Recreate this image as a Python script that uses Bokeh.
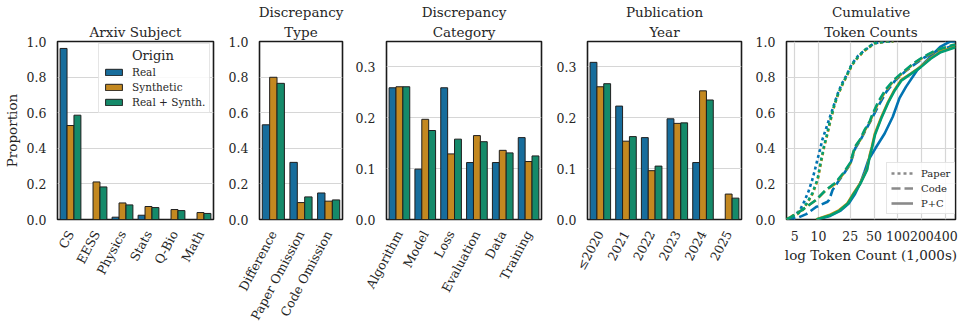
from bokeh.plotting import figure
from bokeh.layouts import row
from bokeh.models import (Range1d, FixedTicker, ColumnDataSource, Legend, LegendItem,
                          PrintfTickFormatter, Title)
from bokeh.transform import dodge
from bokeh.embed import file_html
from bokeh.resources import INLINE

# ---------------- data ----------------
origins = ["Real", "Synthetic", "Real + Synth."]

subj_cats = ["CS", "EESS", "Physics", "Stats", "Q-Bio", "Math"]
subj_real = [0.961, 0.0, 0.013, 0.024, 0.0, 0.0]
subj_synth = [0.528, 0.211, 0.093, 0.073, 0.056, 0.039]
subj_rs = [0.586, 0.183, 0.082, 0.067, 0.050, 0.034]

type_cats = ["Difference", "Paper Omission", "Code Omission"]
type_real = [0.532, 0.321, 0.149]
type_synth = [0.799, 0.095, 0.103]
type_rs = [0.765, 0.127, 0.110]

cat_cats = ["Algorithm", "Model", "Loss", "Evaluation", "Data", "Training"]
cat_real = [0.259, 0.099, 0.259, 0.112, 0.112, 0.161]
cat_synth = [0.261, 0.197, 0.129, 0.165, 0.136, 0.114]
cat_rs = [0.261, 0.175, 0.158, 0.153, 0.131, 0.125]

year_cats = ["\u22642020", "2021", "2022", "2023", "2024", "2025"]
year_real = [0.309, 0.223, 0.161, 0.198, 0.112, 0.0]
year_synth = [0.261, 0.154, 0.096, 0.189, 0.253, 0.050]
year_rs = [0.267, 0.163, 0.105, 0.190, 0.235, 0.042]

token_ticks = [5, 10, 25, 50, 100, 200, 400]

# cumulative token counts (x in 1,000s tokens, y = cumulative proportion)
paper_real_x = [3.95, 4.8, 5.8, 6.6, 7.5, 8.3, 8.9, 9.6, 10.4, 11.2, 12.2, 13.3, 14.5, 15.8, 17.2, 19.5, 22.5, 26.0, 31.5, 38.0, 50.0, 70.0, 88.0]
paper_real_y = [0.0, 0.02, 0.05, 0.10, 0.16, 0.22, 0.27, 0.33, 0.39, 0.45, 0.50, 0.55, 0.60, 0.65, 0.70, 0.76, 0.81, 0.87, 0.92, 0.95, 0.99, 1.0, 1.0]
paper_syn_x = [3.95, 4.4, 5.4, 6.4, 7.4, 8.45, 9.75, 10.7, 11.8, 13.0, 14.2, 15.7, 17.2, 19.9, 22.9, 26.4, 31.9, 38.5, 51.0, 75.0, 88.0]
paper_syn_y = [0.0, 0.015, 0.03, 0.055, 0.10, 0.146, 0.221, 0.315, 0.41, 0.483, 0.558, 0.633, 0.69, 0.755, 0.81, 0.867, 0.914, 0.95, 0.99, 1.0, 1.0]
paper_rs_x = [3.95, 4.4, 5.3, 6.3, 7.3, 8.4, 9.7, 10.6, 11.7, 12.9, 14.1, 15.6, 17.1, 19.8, 22.8, 26.2, 31.6, 38.0, 50.0, 72.0, 86.0]
paper_rs_y = [0.0, 0.012, 0.03, 0.055, 0.10, 0.15, 0.225, 0.318, 0.41, 0.485, 0.56, 0.635, 0.69, 0.757, 0.812, 0.868, 0.915, 0.952, 0.99, 1.0, 1.0]

code_real_x = [3.95, 5.5, 7.0, 9.3, 13.0, 13.6, 15.0, 17.5, 21.0, 25.0, 29.0, 34.0, 39.0, 46.0, 57.0, 72.0, 92.0, 122.0, 160.0, 215.0, 320.0, 530.0]
code_real_y = [0.0, 0.01, 0.03, 0.07, 0.10, 0.11, 0.165, 0.21, 0.26, 0.31, 0.40, 0.45, 0.50, 0.56, 0.64, 0.72, 0.78, 0.83, 0.87, 0.91, 0.95, 0.98]
code_syn_x = [3.95, 5.3, 7.0, 9.3, 12.4, 16.4, 20.8, 25.1, 29.0, 33.4, 38.5, 44.4, 47.0, 56.0, 71.0, 90.0, 120.0, 159.0, 212.0, 310.0, 500.0, 530.0]
code_syn_y = [0.0, 0.034, 0.07, 0.109, 0.165, 0.202, 0.26, 0.315, 0.41, 0.446, 0.502, 0.549, 0.577, 0.652, 0.727, 0.783, 0.83, 0.877, 0.914, 0.95, 0.98, 0.982]
code_rs_x = [3.95, 5.2, 6.9, 9.2, 12.3, 16.2, 20.6, 25.0, 28.8, 33.2, 38.2, 44.0, 46.6, 55.5, 70.0, 89.0, 118.0, 157.0, 210.0, 305.0, 495.0, 530.0]
code_rs_y = [0.0, 0.03, 0.068, 0.108, 0.165, 0.205, 0.262, 0.318, 0.41, 0.448, 0.505, 0.55, 0.58, 0.655, 0.73, 0.785, 0.832, 0.878, 0.915, 0.952, 0.98, 0.982]

pc_real_x = [9.5, 14.0, 19.0, 24.0, 28.5, 34.0, 38.0, 42.4, 53.7, 68.0, 86.0, 104.0, 126.0, 175.0, 232.0, 340.0, 452.0, 530.0]
pc_real_y = [0.0, 0.02, 0.05, 0.09, 0.14, 0.21, 0.27, 0.334, 0.41, 0.483, 0.577, 0.68, 0.745, 0.84, 0.895, 0.97, 1.0, 1.0]
pc_syn_x = [9.3, 13.6, 18.2, 23.0, 27.5, 33.3, 40.5, 44.0, 47.0, 51.0, 62.0, 75.0, 90.0, 109.0, 145.0, 192.0, 255.0, 340.0, 530.0]
pc_syn_y = [0.0, 0.025, 0.053, 0.09, 0.146, 0.202, 0.28, 0.36, 0.41, 0.48, 0.577, 0.66, 0.727, 0.783, 0.82, 0.858, 0.905, 0.942, 0.97]
pc_rs_x = [9.4, 13.8, 18.4, 23.2, 27.7, 33.5, 40.8, 44.3, 47.4, 51.5, 62.5, 75.5, 91.0, 110.0, 146.0, 194.0, 258.0, 345.0, 530.0]
pc_rs_y = [0.0, 0.022, 0.05, 0.088, 0.144, 0.2, 0.278, 0.358, 0.408, 0.478, 0.575, 0.658, 0.725, 0.78, 0.818, 0.856, 0.903, 0.94, 0.968]

# ---------------- style ----------------
FONT = "DejaVu Serif"
TXT = "#262626"
BAR_COLORS = ["#176d9c", "#c38820", "#158a6a"]
LINE_COLORS = ["#0173b2", "#de8f05", "#029e73"]
GRID = "#d6d6d6"
H = 330
TOP = 41
BOTTOM = 111
TICK_SIZE = "12.5px"
TITLE_SIZE = "13.5px"
NBSP = "\u00a0"


def add_titles(p, lines):
    # lines listed top to bottom; the one nearest the frame is added first
    for i, t in enumerate(reversed(lines)):
        p.add_layout(Title(text=t, align="center", text_font=FONT, text_font_size=TITLE_SIZE,
                           text_font_style="normal", text_color=TXT,
                           standoff=(4 if i == 0 else 0)), "above")


def style(p, ylab=None):
    p.outline_line_color = "#1a1a1a"
    p.outline_line_width = 1.6
    for ax in (p.xaxis[0], p.yaxis[0]):
        ax.axis_line_color = None
        ax.major_tick_line_color = None
        ax.minor_tick_line_color = None
        ax.major_tick_out = 0
        ax.major_tick_in = 0
        ax.minor_tick_out = 0
        ax.minor_tick_in = 0
        ax.major_label_text_font = FONT
        ax.major_label_text_font_size = TICK_SIZE
        ax.major_label_text_color = TXT
        ax.axis_label_text_font = FONT
        ax.axis_label_text_font_size = TITLE_SIZE
        ax.axis_label_text_font_style = "normal"
        ax.axis_label_text_color = TXT
    p.yaxis.major_label_standoff = 11
    if ylab:
        p.yaxis.axis_label = ylab
        p.yaxis.axis_label_standoff = 4
    p.ygrid.grid_line_color = GRID
    p.ygrid.grid_line_width = 1.2


def bar_panel(title_lines, cats, real, synth, rs, width, left, right, ymax, yticks, ylab=None, legend=False):
    p = figure(width=width, height=H, x_range=cats, y_range=Range1d(0, ymax),
               output_backend="svg", toolbar_location=None,
               min_border_left=left, min_border_right=right,
               min_border_top=TOP, min_border_bottom=BOTTOM)
    add_titles(p, title_lines)
    src = ColumnDataSource(dict(cat=cats, real=real, synth=synth, rs=rs))
    bw = 0.8 / 3
    rends = []
    for i, col in enumerate(["real", "synth", "rs"]):
        r = p.vbar(x=dodge("cat", (i - 1) * bw, range=p.x_range), top=col, bottom=0,
                   width=bw, source=src, fill_color=BAR_COLORS[i],
                   line_color="#1f1f1f", line_width=1)
        rends.append(r)
    style(p, ylab)
    p.xgrid.grid_line_color = None
    p.yaxis.ticker = FixedTicker(ticks=yticks)
    p.yaxis.formatter = PrintfTickFormatter(format="%.1f")
    p.xaxis.major_label_orientation = 1.08
    p.xaxis.major_label_standoff = 12
    if legend:
        lg = Legend(items=[LegendItem(label=origins[i], renderers=[rends[i]]) for i in range(3)],
                    location=(41, 106), title=NBSP * 7 + "Origin")
        lg.title_text_font = FONT
        lg.title_text_font_size = "13px"
        lg.title_text_font_style = "normal"
        lg.title_text_color = TXT
        lg.title_standoff = 3
        lg.label_text_font = FONT
        lg.label_text_font_size = "10.5px"
        lg.label_text_color = TXT
        lg.glyph_width = 21
        lg.glyph_height = 8
        lg.label_height = 12
        lg.spacing = 3
        lg.padding = 4
        lg.margin = 0
        lg.label_standoff = 8
        lg.border_line_color = "#cccccc"
        lg.border_line_width = 1
        lg.background_fill_alpha = 0.85
        p.add_layout(lg)
    return p


p1 = bar_panel(["Arxiv Subject"], subj_cats, subj_real, subj_synth, subj_rs, 225, 57, 12, 1.0,
               [0, 0.2, 0.4, 0.6, 0.8, 1.0], ylab="Proportion", legend=True)
p2 = bar_panel(["Discrepancy", "Type"], type_cats, type_real, type_synth, type_rs, 127, 31, 10, 1.0,
               [0, 0.2, 0.4, 0.6, 0.8, 1.0])
p3 = bar_panel(["Discrepancy", "Category"], cat_cats, cat_real, cat_synth, cat_rs, 201, 33, 12, 0.35,
               [0, 0.1, 0.2, 0.3])
p4 = bar_panel(["Publication", "Year"], year_cats, year_real, year_synth, year_rs, 199, 31, 11, 0.35,
               [0, 0.1, 0.2, 0.3])

# ---------------- cumulative panel ----------------
p5 = figure(width=211, height=H, x_axis_type="log", x_range=Range1d(3.95, 530),
            y_range=Range1d(0, 1.0),
            output_backend="svg", toolbar_location=None,
            min_border_left=31, min_border_right=8, min_border_top=TOP, min_border_bottom=BOTTOM)
add_titles(p5, ["Cumulative", "Token Counts"])
style(p5)
p5.xgrid.grid_line_color = GRID
p5.xgrid.grid_line_width = 1.2
p5.xaxis.ticker = FixedTicker(ticks=token_ticks, minor_ticks=[])
p5.xaxis.formatter = PrintfTickFormatter(format="%d")
p5.xaxis.major_label_standoff = 11
p5.xaxis.axis_label = "log Token Count (1,000s)"
p5.xaxis.axis_label_standoff = 3
p5.yaxis.ticker = FixedTicker(ticks=[0, 0.2, 0.4, 0.6, 0.8, 1.0], minor_ticks=[])
p5.yaxis.formatter = PrintfTickFormatter(format="%.1f")

DOT = "3 3"
DASH = "9 4"
curves = [
    [(paper_real_x, paper_real_y, DOT), (code_real_x, code_real_y, DASH), (pc_real_x, pc_real_y, "solid")],
    [(paper_syn_x, paper_syn_y, DOT), (code_syn_x, code_syn_y, DASH), (pc_syn_x, pc_syn_y, "solid")],
    [(paper_rs_x, paper_rs_y, DOT), (code_rs_x, code_rs_y, DASH), (pc_rs_x, pc_rs_y, "solid")],
]
for ci, group in enumerate(curves):
    for xs, ys, dash in group:
        p5.line(xs, ys, line_color=LINE_COLORS[ci], line_width=2.6, line_dash=dash)

nan = float("nan")
leg_items = []
for name, dash in [("Paper", DOT), ("Code", DASH), ("P+C", "solid")]:
    r = p5.line([nan], [nan], line_color="#8a8a8a", line_width=2.6, line_dash=dash)
    leg_items.append(LegendItem(label=name, renderers=[r]))
lg5 = Legend(items=leg_items, location=(100, 5))
lg5.label_text_font = FONT
lg5.label_text_font_size = "10px"
lg5.label_text_color = TXT
lg5.glyph_width = 22
lg5.glyph_height = 10
lg5.label_height = 12
lg5.spacing = 3
lg5.padding = 4
lg5.margin = 0
lg5.label_standoff = 8
lg5.border_line_color = "#cccccc"
lg5.background_fill_alpha = 0.85
p5.add_layout(lg5)

layout = row(p1, p2, p3, p4, p5)
open("out.html", "w").write(file_html(layout, INLINE))
